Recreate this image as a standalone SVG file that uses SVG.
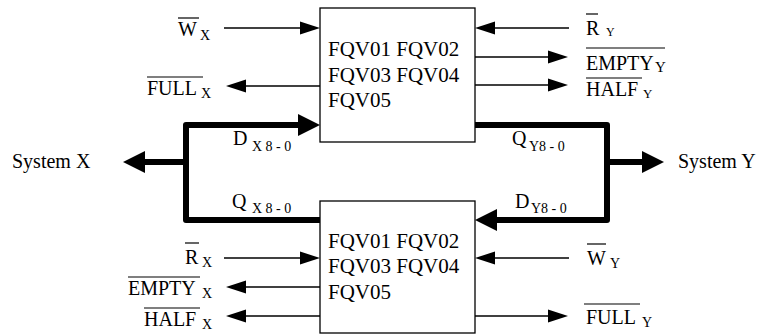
<svg xmlns="http://www.w3.org/2000/svg" width="766" height="335" viewBox="0 0 766 335" font-family="Liberation Serif, Times New Roman, Tinos, Noto Serif, DejaVu Serif, serif">
<style>
.lb{font-size:20px}
.sb{font-size:14px}
.bx{font-size:21px}
.box{fill:#fff;stroke:#000;stroke-width:1.3}
.thin{fill:none;stroke:#000;stroke-width:1.3}
.thick{fill:none;stroke:#000;stroke-width:6;stroke-linejoin:round}
.ob{stroke:#000;stroke-width:1.2}
</style>
<defs>
<marker id="ah" markerUnits="userSpaceOnUse" markerWidth="21" markerHeight="14" refX="1" refY="7" orient="auto"><path d="M0,0.5 L20,7 L0,13.5 z" fill="#000"/></marker>
<marker id="ahb" markerUnits="userSpaceOnUse" markerWidth="23" markerHeight="23" refX="2" refY="11.5" orient="auto"><path d="M0,0.5 L22,11.5 L0,22.5 z" fill="#000"/></marker>
</defs>
<rect width="766" height="335" fill="#fff"/>
<g id="connectors">
<path class="thin" d="M224,28 H301" marker-end="url(#ah)"/>
<path class="thin" d="M320,86 H245" marker-end="url(#ah)"/>
<path class="thin" d="M569,28 H494" marker-end="url(#ah)"/>
<path class="thin" d="M475,57 H549" marker-end="url(#ah)"/>
<path class="thin" d="M475,85 H549" marker-end="url(#ah)"/>
<path class="thin" d="M224,258 H301" marker-end="url(#ah)"/>
<path class="thin" d="M320,287 H245" marker-end="url(#ah)"/>
<path class="thin" d="M320,316 H245" marker-end="url(#ah)"/>
<path class="thin" d="M569,258 H494" marker-end="url(#ah)"/>
<path class="thin" d="M475,316 H549" marker-end="url(#ah)"/>
<path class="thick" d="M320,220 H186 V125 H300" marker-end="url(#ahb)"/>
<path class="thick" d="M186,162 H143" marker-end="url(#ahb)"/>
<path class="thick" d="M475,125 H607 V220 H495" marker-end="url(#ahb)"/>
<path class="thick" d="M607,162 H644" marker-end="url(#ahb)"/>
</g>
<g id="fifo-top">
<rect class="box" x="320" y="8" width="155" height="134"/>
<text class="bx" x="328" y="56" font-family="Liberation Serif">FQV01 FQV02</text>
<text class="bx" x="328" y="82" font-family="Liberation Serif">FQV03 FQV04</text>
<text class="bx" x="328" y="107" font-family="Liberation Serif">FQV05</text>
</g>
<g id="fifo-bottom">
<rect class="box" x="320" y="201" width="155" height="132"/>
<text class="bx" x="328" y="248">FQV01 FQV02</text>
<text class="bx" x="328" y="273">FQV03 FQV04</text>
<text class="bx" x="328" y="299">FQV05</text>
</g>
<g id="system-x"><text class="lb" x="12" y="168">System X</text></g>
<g id="system-y"><text class="lb" x="678" y="168">System Y</text></g>
<g id="labels">
<text x="178" y="36"><tspan class="lb">W</tspan><tspan class="sb" x="200" y="40">X</tspan></text>
<line class="ob" x1="178" y1="18" x2="199" y2="18"/>
<text x="147" y="95"><tspan class="lb">FULL</tspan><tspan class="sb" x="201" y="98">X</tspan></text>
<line class="ob" x1="147" y1="77" x2="203" y2="77"/>
<text x="586" y="35"><tspan class="lb">R</tspan><tspan style="font-size:12px" x="606" y="36">Y</tspan></text>
<line class="ob" x1="586" y1="14" x2="598" y2="14"/>
<text x="586" y="70"><tspan class="lb">EMPTY</tspan><tspan style="font-size:15px" x="655" y="72">Y</tspan></text>
<line class="ob" x1="586" y1="48" x2="665" y2="48"/>
<text x="586" y="96"><tspan class="lb">HALF</tspan><tspan style="font-size:13px" x="643" y="98">Y</tspan></text>
<line class="ob" x1="586" y1="78" x2="642" y2="78"/>
<text x="185" y="264"><tspan class="lb">R</tspan><tspan class="sb" x="202" y="267">X</tspan></text>
<line class="ob" x1="185" y1="243" x2="199" y2="243"/>
<text x="128" y="295"><tspan class="lb">EMPTY</tspan><tspan class="sb" x="202" y="298">X</tspan></text>
<line class="ob" x1="128" y1="277" x2="200" y2="277"/>
<text x="144" y="326"><tspan class="lb">HALF</tspan><tspan class="sb" x="202" y="329">X</tspan></text>
<line class="ob" x1="144" y1="308" x2="200" y2="308"/>
<text x="587" y="265"><tspan class="lb">W</tspan><tspan class="sb" x="610" y="268">Y</tspan></text>
<line class="ob" x1="587" y1="244" x2="606" y2="244"/>
<text x="586" y="324"><tspan class="lb">FULL</tspan><tspan class="sb" x="642" y="327">Y</tspan></text>
<line class="ob" x1="584" y1="304" x2="640" y2="304"/>
<text x="233" y="145"><tspan class="lb">D</tspan><tspan class="sb" x="252" y="151">X 8 - 0</tspan></text>
<text x="232" y="208"><tspan class="lb">Q</tspan><tspan class="sb" x="252" y="213">X 8 - 0</tspan></text>
<text x="512" y="145"><tspan class="lb">Q</tspan><tspan class="sb" x="529" y="151">Y8 - 0</tspan></text>
<text x="515" y="208"><tspan class="lb">D</tspan><tspan class="sb" x="531" y="213">Y8 - 0</tspan></text>
</g>
</svg>
